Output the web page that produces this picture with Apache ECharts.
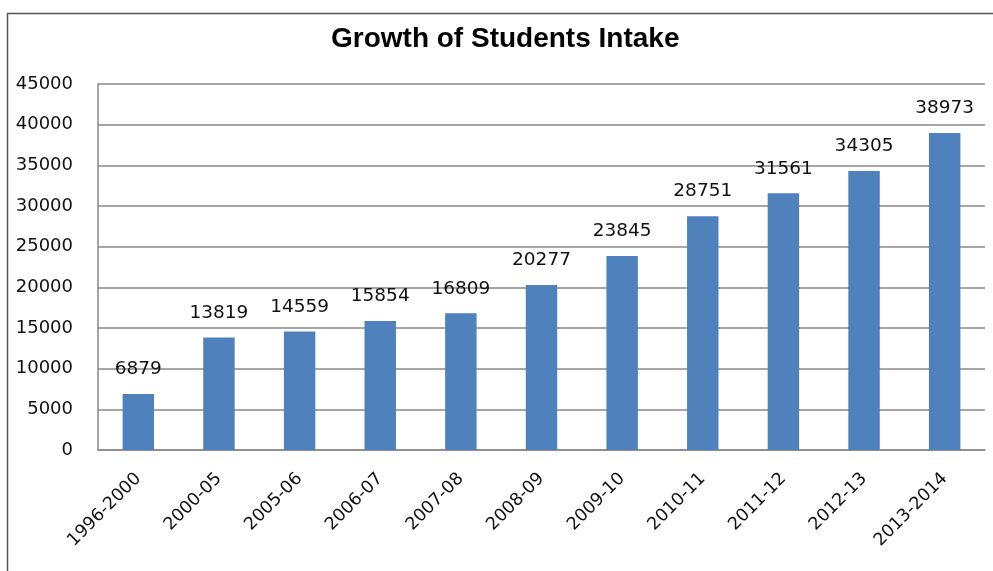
<!DOCTYPE html>
<html><head><meta charset="utf-8">
<script src="https://cdn.jsdelivr.net/npm/echarts@6/dist/echarts.min.js"></script>
<style>html,body{margin:0;padding:0;background:#fff}#c{width:993px;height:571px}</style>
</head><body><div id="c"></div>
<script>
var categories = ['1996-2000','2000-05','2005-06','2006-07','2007-08','2008-09','2009-10','2010-11','2011-12','2012-13','2013-2014'];
var intake = [6879,13819,14559,15854,16809,20277,23845,28751,31561,34305,38973];
var chart = echarts.init(document.getElementById('c'));
chart.setOption({
  animation:false,
  backgroundColor:'#fff',
  graphic:[{type:'rect',shape:{x:7.5,y:13.5,width:995,height:570},style:{fill:'none',stroke:'#555',lineWidth:1.5}}],
  title:{text:'Growth of Students Intake',left:326,top:20,textStyle:{fontFamily:'Liberation Sans',fontSize:28,fontWeight:'bold',color:'#000'}},
  grid:{left:98,right:8,top:84,bottom:121,containLabel:false},
  xAxis:{type:'category',data:categories,
    axisLine:{lineStyle:{color:'#888',width:1.5}},axisTick:{show:false},
    axisLabel:{rotate:45,interval:0,margin:26,fontFamily:'DejaVu Sans',fontSize:17.5,color:'#111'}},
  yAxis:{type:'value',min:0,max:45000,interval:5000,
    axisLine:{show:true,lineStyle:{color:'#888',width:1.5}},axisTick:{show:false},
    splitLine:{lineStyle:{color:'#888',width:1.5}},
    axisLabel:{margin:25,fontFamily:'DejaVu Sans',fontSize:18,color:'#111',formatter:function(v){return String(v);}}},
  series:[{type:'bar',data:intake,barWidth:'39%',itemStyle:{color:'#4F81BD'},
    label:{show:true,position:'top',distance:15,fontFamily:'DejaVu Sans',fontSize:18.5,color:'#111'}}]
});
</script></body></html>
